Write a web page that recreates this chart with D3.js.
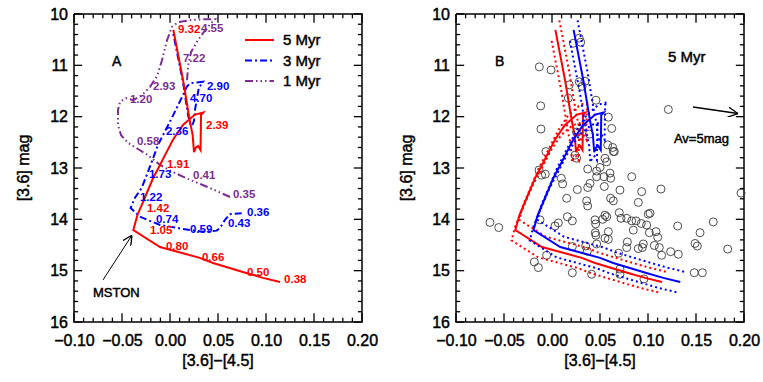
<!DOCTYPE html>
<html>
<head>
<meta charset="utf-8">
<script src="https://cdn.jsdelivr.net/npm/d3@7"></script>
<style>
  body { margin: 0; background: #fff; }
  svg { font-family: "Liberation Sans", Arial, sans-serif; }
  .heavy { stroke: #000; stroke-width: 0.45px; }
</style>
</head>
<body>
<svg id="chart" width="763" height="382"></svg>
<script>
const xTicks = [-0.10, -0.05, 0.00, 0.05, 0.10, 0.15, 0.20];
const yTicks = [10, 11, 12, 13, 14, 15, 16];

// isochrones, [color [3.6]-[4.5], mag [3.6]]
const iso5 = [[0.1146,15.22],[0.0969,15.14],[0.0802,15.05],[0.0448,14.85],[0.031,14.75],[-0.0104,14.54],
  [-0.0382,14.21],[-0.034,13.92],[-0.026,13.57],[-0.0177,13.20],[-0.0104,12.94],[-0.0052,12.75],[0.0031,12.45],
  [0.0135,12.16],[0.026,11.96],[0.0347,11.92],[0.0323,11.97],[0.0318,12.65],[0.0292,12.57],[0.027,12.60],
  [0.025,12.69],[0.0236,12.36],[0.0208,12.10],[0.0139,11.32],[0.0035,10.31]];
const iso3 = [[0.0747,13.88],[0.0625,13.90],[0.0573,14.01],[0.052,14.17],[0.0486,14.22],[0.0344,14.24],
  [0.0208,14.21],[-0.0104,14.11],[-0.0313,13.95],[-0.041,13.78],[-0.0365,13.58],[-0.0295,13.39],[-0.0208,12.97],
  [-0.0125,12.55],[0.0018,12.03],[0.0135,11.58],[0.0174,11.42],[0.0208,11.35],[0.0344,11.32],[0.030,11.44],
  [0.0278,11.68],[0.026,11.87],[0.025,12.08],[0.0229,12.18],[0.021,12.14],[0.0188,11.97],[0.0135,11.32],[0.0028,10.33]];
const iso1 = [[0.0625,13.565],[0.0417,13.39],[0.0208,13.23],[0.0031,13.08],[-0.0104,12.94],[-0.0229,12.75],
  [-0.0333,12.63],[-0.0438,12.51],[-0.051,12.36],[-0.0542,12.16],[-0.0542,11.87],[-0.052,11.71],[-0.0458,11.64],
  [-0.0385,11.68],[-0.0292,11.58],[-0.0208,11.42],[-0.0135,11.21],[-0.0083,10.90],[-0.0031,10.51],[0.0021,10.25],
  [0.0083,10.16],[0.0208,10.12],[0.0365,10.10],[0.047,10.10],[0.0385,10.27],[0.029,10.51],[0.022,10.74],
  [0.019,10.99],[0.0177,11.29]];
// second 5 Myr model drawn in panel B
const iso5b = [[0.1336,15.22],[0.1159,15.14],[0.0992,15.05],[0.0638,14.85],[0.050,14.75],[0.0086,14.54],
  [-0.0192,14.21],[-0.015,13.92],[-0.007,13.57],[0.0013,13.20],[0.0086,12.94],[0.0138,12.75],[0.0221,12.45],
  [0.0325,12.16],[0.045,11.96],[0.0537,11.92],[0.0513,11.97],[0.0508,12.65],[0.0482,12.57],[0.046,12.60],
  [0.044,12.69],[0.0426,12.36],[0.0398,12.10],[0.0329,11.32],[0.0225,10.31]];
const magErr = 0.2, colErr = 0.004;

// mass labels (Msun): text, x, y
const mass5 = [["9.32",0.0083,10.28],["2.39",0.0375,12.16],["1.91",-0.0031,12.92],["1.42",-0.024,13.77],
  ["1.05",-0.0208,14.21],["0.80",-0.0042,14.52],["0.66",0.0333,14.74],["0.50",0.0802,15.03],["0.38",0.1188,15.16]];
const mass3 = [["2.90",0.0385,11.40],["4.70",0.0208,11.63],["2.36",-0.0042,12.27],["1.73",-0.0219,13.12],
  ["1.22",-0.0313,13.56],["0.74",-0.0146,13.99],["0.59",0.0208,14.18],["0.43",0.0604,14.06],["0.36",0.0802,13.86]];
const mass1 = [["4.55",0.0323,10.27],["7.22",0.0135,10.85],["2.93",-0.0177,11.40],["1.20",-0.0417,11.66],
  ["0.58",-0.0344,12.48],["0.41",0.024,13.14],["0.35",0.0656,13.50]];

const mston = {text: "MSTON", x: -0.0802, y: 15.43, from: [-0.0698, 15.18], to: [-0.0396, 14.31]};
const avArrow = {from: [0.1469, 11.81], to: [0.1938, 11.94], text: "Av=5mag", x: 0.127, y: 12.42};

const stars = [[-0.0135,13.04],[-0.0108,13.14],[-0.007,13.12],[-0.0063,12.68],[0.024,12.75],[0.0257,12.81],
  [0.0552,12.81],[0.0639,12.68],[0.057,12.88],[0.0372,13.02],[0.05,12.99],[0.0465,13.06],[0.0465,13.17],
  [0.0542,13.17],[0.0604,13.10],[0.0611,13.20],[0.083,13.17],[0.0396,13.30],[0.0372,13.38],[0.0097,13.20],
  [0.0111,13.31],[0.0545,13.36],[0.0708,13.43],[0.0264,13.42],[0.0934,13.46],[0.1135,13.41],[0.0153,13.59],
  [0.0361,13.64],[0.0372,13.74],[0.0611,13.59],[0.0639,13.64],[0.0899,13.67],[0.016,13.95],[0.0212,14.03],
  [-0.0125,14.01],[0.0066,14.07],[0.0031,14.13],[0.0448,14.01],[0.0455,14.09],[0.0528,14.00],[0.0552,13.92],
  [0.057,13.95],[0.0701,13.87],[0.0719,13.98],[0.0778,13.98],[0.083,14.03],[0.0875,14.03],[0.093,14.08],
  [0.0986,14.11],[0.1003,13.90],[0.1021,13.88],[0.1309,14.13],[0.168,14.05],[0.1542,14.26],[0.149,14.47],
  [0.1514,14.52],[0.183,14.58],[0.1969,13.49],[-0.0646,14.06],[-0.0555,14.16],[0.0847,14.21],[0.1014,14.26],
  [0.1083,14.24],[0.1101,14.35],[0.0451,14.26],[0.0458,14.31],[0.0587,14.24],[0.0552,14.37],[0.0587,14.39],
  [0.0465,14.48],[0.0351,14.52],[0.0368,14.62],[0.0212,14.53],[0.0785,14.44],[0.0778,14.55],[0.0899,14.57],
  [0.0951,14.48],[0.0941,14.55],[0.1066,14.51],[0.1118,14.55],[0.1142,14.70],[0.1236,14.63],[0.1316,14.68],
  [0.0694,14.66],[-0.0056,14.70],[-0.0184,14.83],[-0.0142,14.94],[0.0212,15.04],[0.0413,15.07],[0.0708,14.97],
  [0.0708,15.07],[0.0958,15.16],[0.1482,15.04],[0.1566,15.04],[-0.0132,11.03],[-0.001,11.09],[-0.0118,11.79],
  [-0.0115,12.24],[0.0284,10.47],[0.0299,10.55],[0.0222,10.57],[0.0284,11.32],[0.0344,11.31],[0.0313,11.41],
  [0.018,11.38],[0.017,11.64],[0.0458,11.68],[0.0587,12.01],[0.0622,12.23],[0.058,12.55],[0.0632,12.60],
  [0.0649,12.68],[0.0389,12.34],[0.0255,12.30],[0.1212,11.86]];

const RED = "#ff0000", BLUE = "#0000ff", PURPLE = "#7d2d91";
const DASHDOT = "7,3,2,3", DASH3DOT = "8,3,1.5,3,1.5,3,1.5,3";

const svg = d3.select("#chart");
const plotTop = 14, h = 308, w = 288;

svg.append("defs").append("marker")
  .attr("id", "head").attr("viewBox", "0 0 10 10")
  .attr("refX", 10).attr("refY", 5)
  .attr("markerWidth", 10).attr("markerHeight", 10)
  .attr("markerUnits", "userSpaceOnUse")
  .attr("orient", "auto")
  .append("path").attr("d", "M0,0 L10,5 L0,10")
  .attr("fill", "none").attr("stroke", "#000").attr("stroke-width", 1.3);

const makePanel = (left, titleX) => {
  const x = d3.scaleLinear().domain([-0.10, 0.20]).range([left, left + w]);
  const y = d3.scaleLinear().domain([10, 16]).range([plotTop, plotTop + h]);
  const g = svg.append("g");
  const line = d3.line().x(d => x(d[0])).y(d => y(d[1]));

  // labels through d3 axes (tick lines hidden)
  const xa = g.append("g").attr("transform", `translate(0,${plotTop + h})`)
    .call(d3.axisBottom(x).tickValues(xTicks).tickSize(0).tickPadding(13).tickFormat(d3.format(".2f")));
  const ya = g.append("g").attr("transform", `translate(${left},0)`)
    .call(d3.axisLeft(y).tickValues(yTicks).tickSize(0).tickPadding(6).tickFormat(d3.format("d")));
  [xa, ya].forEach(a => {
    a.select(".domain").remove();
    a.attr("font-size", 16).attr("font-family", null);
    a.selectAll("text").attr("class", "heavy").attr("fill", "#000");
  });

  // frame, in data units
  g.append("path").datum([[-0.10, 10], [0.20, 10], [0.20, 16], [-0.10, 16], [-0.10, 10]])
    .attr("d", line).attr("fill", "none").attr("stroke", "#000").attr("stroke-width", 1.5);

  // inward tick marks on all four sides
  const minorX = d3.range(-10, 21).map(d => d / 100);
  const minorY = d3.range(50, 81).map(d => d / 5);
  const isMajor = (list, v) => list.some(t => Math.abs(t - v) < 1e-9);
  const segs = [];
  minorX.forEach(v => {
    const len = isMajor(xTicks, v) ? 0.17 : 0.085;
    segs.push([[v, 16], [v, 16 - len]], [[v, 10], [v, 10 + len]]);
  });
  minorY.forEach(v => {
    const len = isMajor(yTicks, v) ? 0.0085 : 0.0043;
    segs.push([[-0.10, v], [-0.10 + len, v]], [[0.20, v], [0.20 - len, v]]);
  });
  segs.forEach(s => {
    g.append("path").datum(s).attr("d", line)
      .attr("fill", "none").attr("stroke", "#000").attr("stroke-width", 1.3);
  });

  g.append("text").attr("class", "heavy").attr("x", left + w / 2).attr("y", 366)
    .attr("text-anchor", "middle").attr("font-size", 16).text("[3.6]\u2212[4.5]");
  g.append("text").attr("class", "heavy")
    .attr("transform", `translate(${titleX},${plotTop + h / 2}) rotate(-90)`)
    .attr("text-anchor", "middle").attr("font-size", 16).text("[3.6] mag");

  return {g, x, y, line};
};

// panel A
const A = makePanel(74, 29);
[[iso1, PURPLE, DASH3DOT], [iso3, BLUE, DASHDOT], [iso5, RED, null]].forEach(([data, c, dash]) => {
  A.g.append("path").datum(data).attr("d", A.line)
    .attr("fill", "none").attr("stroke", c).attr("stroke-width", 2)
    .attr("stroke-dasharray", dash);
});
[[mass5, RED], [mass3, BLUE], [mass1, PURPLE]].forEach(([labels, c]) => {
  A.g.selectAll(null).data(labels).enter().append("text")
    .attr("x", d => A.x(d[1])).attr("y", d => A.y(d[2])).attr("dy", "0.36em")
    .attr("fill", c).attr("font-size", 11.5).attr("font-weight", "bold")
    .text(d => d[0]);
});
A.g.append("text").attr("class", "heavy").attr("x", 112).attr("y", 66).attr("font-size", 14).text("A");
A.g.append("text").attr("class", "heavy").attr("x", A.x(mston.x)).attr("y", A.y(mston.y)).attr("dy", "0.36em")
  .attr("font-size", 13).text(mston.text);
A.g.append("line")
  .attr("x1", A.x(mston.from[0])).attr("y1", A.y(mston.from[1]))
  .attr("x2", A.x(mston.to[0])).attr("y2", A.y(mston.to[1]))
  .attr("stroke", "#000").attr("stroke-width", 1).attr("marker-end", "url(#head)");

const legend = A.g.append("g");
[["5 Myr", RED, null], ["3 Myr", BLUE, DASHDOT], ["1 Myr", PURPLE, DASH3DOT]].forEach(([t, c, dash], i) => {
  const ly = 40 + i * 20.5;
  legend.append("line").attr("x1", 245).attr("x2", 274).attr("y1", ly).attr("y2", ly)
    .attr("stroke", c).attr("stroke-width", 2).attr("stroke-dasharray", dash);
  legend.append("text").attr("class", "heavy").attr("x", 283).attr("y", ly).attr("dy", "0.36em")
    .attr("font-size", 15).text(t);
});

// panel B
const B = makePanel(456, 412);
B.g.selectAll("circle").data(stars).enter().append("circle")
  .attr("cx", d => B.x(d[0])).attr("cy", d => B.y(d[1])).attr("r", 4)
  .attr("fill", "none").attr("stroke", "#3a3a3a").attr("stroke-width", 0.9);
[[iso5, RED], [iso5b, BLUE]].forEach(([data, c]) => {
  [[colErr, -magErr], [-colErr, magErr]].forEach(([dx, dy]) => {
    B.g.append("path").datum(data.map(d => [d[0] + dx, d[1] + dy])).attr("d", B.line)
      .attr("fill", "none").attr("stroke", c).attr("stroke-width", 2)
      .attr("stroke-dasharray", "2,3");
  });
  B.g.append("path").datum(data).attr("d", B.line)
    .attr("fill", "none").attr("stroke", c).attr("stroke-width", 2);
});
B.g.append("text").attr("class", "heavy").attr("x", 495).attr("y", 66).attr("font-size", 14).text("B");
B.g.append("text").attr("class", "heavy").attr("x", 668).attr("y", 57).attr("dy", "0.36em")
  .attr("font-size", 15).text("5 Myr");
B.g.append("line")
  .attr("x1", B.x(avArrow.from[0])).attr("y1", B.y(avArrow.from[1]))
  .attr("x2", B.x(avArrow.to[0])).attr("y2", B.y(avArrow.to[1]))
  .attr("stroke", "#000").attr("stroke-width", 1.5).attr("marker-end", "url(#head)");
B.g.append("text").attr("class", "heavy").attr("x", B.x(avArrow.x)).attr("y", B.y(avArrow.y)).attr("dy", "0.36em")
  .attr("font-size", 13).text(avArrow.text);
</script>
</body>
</html>
